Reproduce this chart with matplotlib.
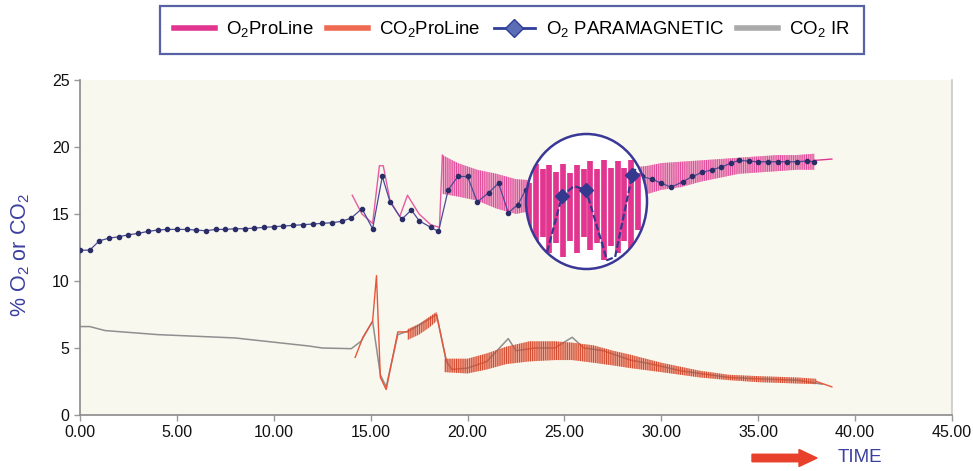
import numpy as np
import matplotlib.pyplot as plt
from matplotlib.patches import Ellipse, FancyArrow
from matplotlib.lines import Line2D


plt.rcParams.update({'font.family': 'Liberation Sans', 'mathtext.fontset': 'custom',
                     'mathtext.rm': 'Liberation Sans', 'hatch.linewidth': 0.7})

# O2 paramagnetic analyser (dotted reference trace)
o2_para_t = [0.0, 0.5, 1.0, 1.5, 2.0, 2.5, 3.0, 3.5, 4.0, 4.5, 5.0, 5.5, 6.0, 6.5, 7.0,
             7.5, 8.0, 8.5, 9.0, 9.5, 10.0, 10.5, 11.0, 11.5, 12.0, 12.5, 13.0, 13.5, 14.0,
             14.55, 15.1, 15.6, 16.0, 16.6, 17.1, 17.5, 18.1, 18.5, 19.0, 19.5, 20.0, 20.5,
             21.1, 21.6, 22.1, 22.6, 23.0, 23.5, 24.0, 24.5, 25.0, 25.5, 26.0, 26.5, 27.0,
             27.5, 28.0, 28.5, 29.0, 29.5, 30.0, 30.5, 31.1, 31.6, 32.1, 32.6, 33.1, 33.6,
             34.0, 34.5, 35.0, 35.5, 36.0, 36.5, 37.0, 37.5, 37.9]
o2_para = [12.3, 12.3, 13.0, 13.2, 13.3, 13.45, 13.55, 13.7, 13.8, 13.85, 13.85, 13.85, 13.8,
           13.75, 13.85, 13.85, 13.9, 13.9, 13.95, 14.0, 14.05, 14.1, 14.15, 14.2, 14.25,
           14.3, 14.35, 14.45, 14.7, 15.4, 13.9, 17.8, 15.9, 14.6, 15.3, 14.5, 14.0, 13.7,
           16.8, 17.8, 17.8, 15.9, 16.6, 17.3, 15.1, 15.7, 16.8, 16.5, 15.5, 16.0, 16.8,
           16.5, 16.8, 16.2, 15.5, 16.0, 16.8, 17.5, 17.8, 17.6, 17.3, 17.0, 17.4, 17.8,
           18.1, 18.3, 18.5, 18.8, 19.0, 18.95, 18.9, 18.9, 18.9, 18.9, 18.9, 18.95, 18.9]

# O2 ProLine: single trace before the oscillating band, then band envelopes
o2_pro_t = [14.05, 14.55, 15.1, 15.45, 15.65, 16.0, 16.5, 16.9, 17.5, 18.1, 18.55, 18.7]
o2_pro = [16.4, 15.0, 14.3, 18.6, 18.6, 16.0, 14.8, 16.4, 15.0, 14.2, 14.0, 19.4]
o2_band_t = [18.7, 19.5, 20.5, 21.5, 22.5, 23.5, 25.0, 27.0, 29.3, 30.0, 31.0, 32.0, 33.0,
             34.0, 35.0, 36.0, 37.0, 37.9]
o2_band_hi = [19.4, 18.8, 18.3, 18.0, 17.6, 17.5, 17.8, 18.2, 18.6, 18.8, 18.9, 19.0, 19.1,
              19.2, 19.3, 19.4, 19.4, 19.5]
o2_band_lo = [16.5, 16.3, 16.0, 15.4, 15.0, 15.3, 15.6, 16.0, 16.5, 16.8, 17.0, 17.4, 17.7,
              18.0, 18.1, 18.2, 18.3, 18.3]
o2_tail_t = [37.9, 38.8]
o2_tail = [19.0, 19.1]

# CO2 infrared analyser
co2_ir_t = [0.0, 0.5, 1.3, 4.0, 8.0, 11.8, 12.5, 14.0, 14.5, 15.1, 15.5, 15.8, 16.4, 17.0,
            17.6, 18.4, 18.9, 19.2, 20.0, 21.0, 22.1, 22.5, 23.5, 24.5, 25.4, 26.0, 27.0,
            28.4, 29.5, 31.0, 33.5, 35.0, 37.0, 38.3]
co2_ir = [6.6, 6.6, 6.3, 6.0, 5.75, 5.15, 5.0, 4.95, 5.5, 7.0, 3.0, 2.1, 6.0, 6.3, 6.8, 7.5,
          4.0, 3.4, 3.5, 4.0, 5.7, 4.8, 5.0, 5.0, 5.8, 5.0, 4.8, 4.1, 3.8, 3.3, 2.8, 2.7, 2.6,
          2.3]

# CO2 ProLine
co2_pro_t = [14.2, 14.6, 15.1, 15.3, 15.5, 15.8, 16.4, 16.9]
co2_pro = [4.3, 5.8, 7.0, 10.4, 2.8, 1.9, 6.2, 6.2]
co2_ramp_t = [16.9, 17.5, 18.0, 18.4]
co2_ramp_hi = [6.4, 6.8, 7.3, 7.7]
co2_ramp_lo = [5.6, 6.0, 6.5, 7.0]
co2_drop_t = [18.4, 18.9]
co2_drop = [7.5, 4.1]
co2_band_t = [18.8, 20.0, 21.0, 22.0, 23.2, 24.5, 25.4, 26.5, 27.5, 28.4, 30.0, 31.0, 32.0,
              33.5, 35.0, 37.0, 38.0]
co2_band_hi = [4.2, 4.2, 4.6, 5.1, 5.5, 5.5, 5.4, 5.2, 4.8, 4.5, 3.9, 3.6, 3.3, 3.0, 2.9,
               2.8, 2.7]
co2_band_lo = [3.2, 3.1, 3.4, 3.8, 4.0, 4.1, 4.1, 3.9, 3.7, 3.5, 3.2, 3.0, 2.8, 2.6, 2.45,
               2.35, 2.3]
co2_tail_t = [38.0, 38.8]
co2_tail = [2.5, 2.1]

# magnified detail (lens)
zoom_bar = list(range(17))
zoom_hi = [17.2, 17.9, 17.7, 17.85, 17.6, 17.9, 17.55, 17.85, 17.7, 18.0, 17.7, 18.05, 17.75,
           18.0, 17.75, 18.05, 17.55]
zoom_lo = [15.05, 14.85, 15.2, 14.6, 14.95, 14.45, 15.05, 14.6, 15.2, 14.7, 14.95, 14.35,
           14.85, 14.6, 15.05, 14.7, 15.45]
zoom_para_x = [2.3, 4.84, 6.6, 8.36, 10.12, 11.44, 12.62, 15.12, 15.7]
zoom_para = [14.3, 16.7, 17.07, 16.93, 15.44, 14.33, 14.44, 17.48, 17.74]
zoom_diamonds = [1, 3, 7]

PINK = '#e2358f'
ORANGE = '#e8553a'
GREY = '#8f8f8f'
NAVY = '#34388f'
BLUE_TXT = '#3b3f9e'


def band(ax, t, lo, hi, face, hatch_col, alpha):
    ax.fill_between(t, lo, hi, facecolor=face, alpha=alpha, lw=0, zorder=3)
    ax.fill_between(t, lo, hi, facecolor='none', edgecolor=hatch_col, hatch='|' * 9, lw=0,
                    zorder=3)


fig = plt.figure(figsize=(9.73, 4.71), dpi=100)
ax = fig.add_axes([80 / 973, 56 / 471, 872 / 973, 335 / 471])
ax.set_facecolor('#f8f8ef')

ax.plot(co2_ir_t, co2_ir, color=GREY, lw=1.1, zorder=2)
ax.plot(co2_pro_t, co2_pro, color=ORANGE, lw=1.0, zorder=3)
band(ax, co2_ramp_t, co2_ramp_lo, co2_ramp_hi, ORANGE, '#d2472a', 0.35)
ax.plot(co2_drop_t, co2_drop, color=ORANGE, lw=1.0, zorder=3)
band(ax, co2_band_t, co2_band_lo, co2_band_hi, ORANGE, '#d2472a', 0.4)
ax.plot(co2_tail_t, co2_tail, color=ORANGE, lw=1.0, zorder=3)

ax.plot(o2_pro_t, o2_pro, color=PINK, lw=1.0, alpha=0.8, zorder=3)
band(ax, o2_band_t, o2_band_lo, o2_band_hi, PINK, '#e0489a', 0.34)
ax.plot(o2_tail_t, o2_tail, color=PINK, lw=1.0, zorder=3)

ax.plot(o2_para_t, o2_para, color='#4a4a9a', lw=0.9, marker='o', markersize=3.0,
        markerfacecolor='#2a2d66', markeredgecolor='#2a2d66', zorder=4)

ax.set_xlim(0, 45)
ax.set_ylim(0, 25)
ax.set_xticks(np.arange(0, 46, 5))
ax.set_xticklabels(['%.2f' % v for v in np.arange(0, 46, 5)])
ax.set_yticks(np.arange(0, 26, 5))
ax.tick_params(labelsize=11.5, colors='#999999', labelcolor='#111111', length=4, width=1)
for side in ['left', 'bottom', 'right']:
    ax.spines[side].set_color('#8a8a8a')
    ax.spines[side].set_linewidth(1.2)
ax.spines['right'].set_color('#c8c8c8')
ax.spines['top'].set_visible(False)

fig.text(21 / 973, 1 - 255 / 471, r'% O$_\mathregular{2}$ or CO$_\mathregular{2}$',
         rotation=90, ha='center', va='center', fontsize=15.5, color=BLUE_TXT)

# lens with magnified view
ins = fig.add_axes([526 / 973, 1 - 269 / 471, 121 / 973, 135 / 471])
ins.set_xlim(-0.44, 17.3)
ins.set_ylim(14.0, 19.0)
ins.axis('off')
lens = Ellipse((0.5, 0.5), 1, 1, transform=ins.transAxes, facecolor='white',
               edgecolor='none', zorder=0)
ins.add_patch(lens)
bars = ins.vlines(zoom_bar, zoom_lo, zoom_hi, color=PINK, lw=4.1, zorder=1)
bars.set_capstyle('butt')
bars.set_clip_path(lens)
bl, = ins.plot(zoom_para_x, zoom_para, color=NAVY, lw=1.6, dashes=(3, 1.2), zorder=2)
bl.set_clip_path(lens)
ins.plot([zoom_para_x[i] for i in zoom_diamonds], [zoom_para[i] for i in zoom_diamonds],
         ls='none', marker='D', markersize=7, color=NAVY, zorder=3)
ins.add_patch(Ellipse((0.5, 0.5), 1, 1, transform=ins.transAxes, facecolor='none',
                      edgecolor='#3a3896', lw=1.8, zorder=5, clip_on=False))

handles = [Line2D([], [], color=PINK, lw=4),
           Line2D([], [], color='#ee6a52', lw=4),
           Line2D([], [], color='#2f3e9a', lw=2, marker='D', markersize=9,
                  markerfacecolor='#5b6db5', markeredgecolor='#2f3e9a'),
           Line2D([], [], color='#aaaaaa', lw=4)]
labels = [r'O$_\mathregular{2}$ProLine', r'CO$_\mathregular{2}$ProLine',
          r'O$_\mathregular{2}$ PARAMAGNETIC', r'CO$_\mathregular{2}$ IR']
leg = fig.legend(handles, labels, loc='center', bbox_to_anchor=(512 / 973, 1 - 30 / 471),
                 ncol=4, fancybox=False, edgecolor='#2d3a8c', fontsize=13.4,
                 handlelength=2.2, handletextpad=0.6, columnspacing=0.7, borderpad=0.75)
leg.get_frame().set_linewidth(1.6)

fig.add_artist(FancyArrow(7.52, 0.13, 0.65, 0, width=0.075, head_width=0.17, head_length=0.18,
                          length_includes_head=True, color='#e8402a',
                          transform=fig.dpi_scale_trans))
fig.text(860 / 973, 13 / 471, 'TIME', ha='center', va='center', fontsize=13.5, color=BLUE_TXT)

plt.savefig('out.png', dpi=100)
